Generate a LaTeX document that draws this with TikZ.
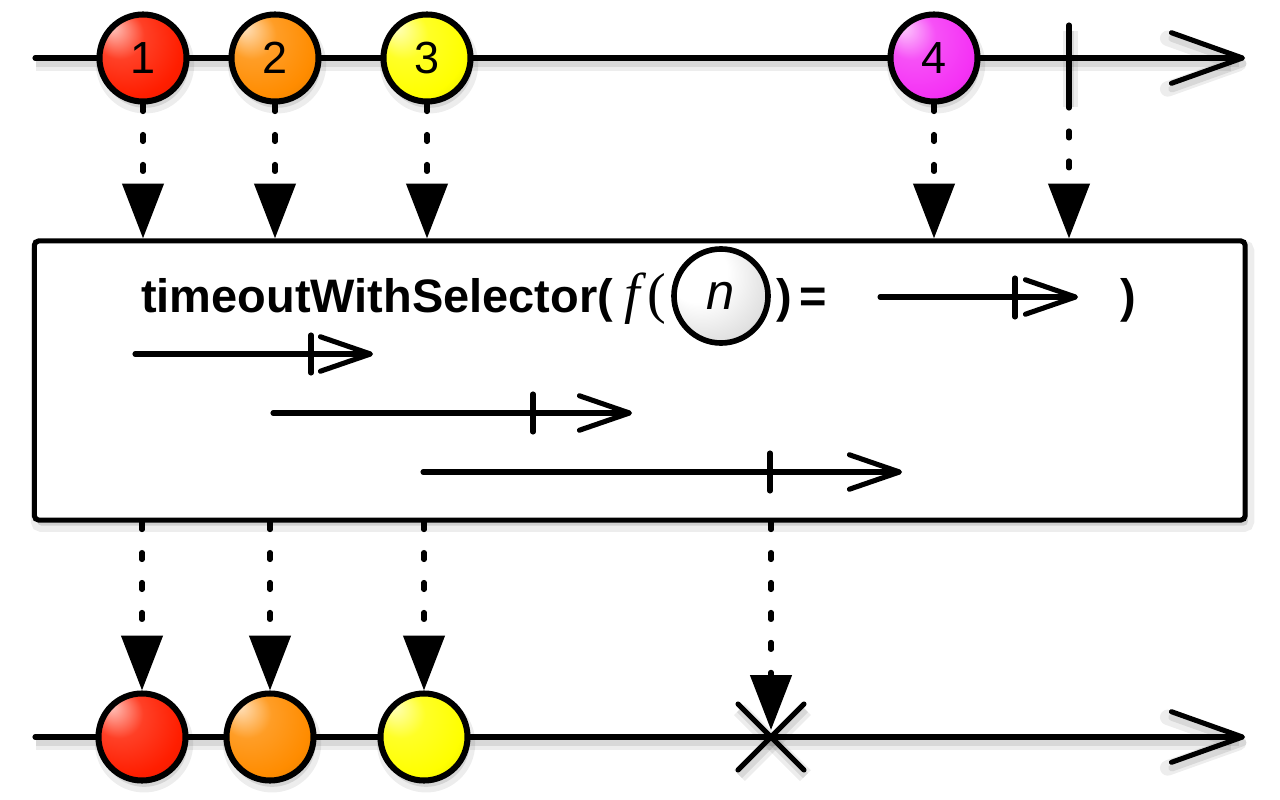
\documentclass[tikz,border=0pt]{standalone}
\usepackage{fontspec}
\setmainfont{Liberation Sans}
\newfontfamily\timesfont{Liberation Serif}
\usetikzlibrary{arrows.meta}
\colorlet{marblecol}{red}
\pgfdeclareradialshading[marblecol]{marble}{\pgfqpoint{-18bp}{18bp}}{%
  color(0bp)=(marblecol!25!white);
  color(14bp)=(marblecol!85!white);
  color(30bp)=(marblecol);
  color(44bp)=(marblecol!85!black);
  color(54bp)=(marblecol!55!black)}
\pgfdeclareradialshading{whiteball}{\pgfqpoint{-18bp}{18bp}}{%
  color(0bp)=(white);
  color(16bp)=(white);
  color(32bp)=(black!12);
  color(44bp)=(black!30);
  color(54bp)=(black!50)}
\definecolor{mred}{RGB}{255,30,0}
\definecolor{morange}{RGB}{255,140,0}
\definecolor{myellow}{RGB}{255,255,0}
\definecolor{mmagenta}{RGB}{245,50,245}
\tikzset{
  lw/.style={line width=3.6pt, line cap=round, line join=round},
  lshadow/.style={
    preaction={draw=black, draw opacity=0.07, line width=11pt, transform canvas={shift={(1pt,-4pt)}}},
    preaction={draw=black, draw opacity=0.09, line width=5pt, transform canvas={shift={(1pt,-4pt)}}}},
  bigarrow/.style={-{Straight Barb[length=50.5pt,width=36pt,round]}},
  smallarrow/.style={-{Straight Barb[length=35.6pt,width=24.5pt,round]}},
  dotconn/.style={line width=3.6pt, line cap=round, dash pattern=on 5pt off 16.3pt,
    -{Triangle[length=39pt,width=29pt]}},
  marble/.style={circle, draw=black, line width=4.3pt, minimum size=2.175cm, inner sep=0pt,
    shade, shading=marble, /utils/exec={\colorlet{marblecol}{#1}},
    font=\fontsize{32}{38}\selectfont,
    preaction={fill=black, fill opacity=0.10, transform canvas={shift={(1.5pt,-4.5pt)}}},
    preaction={draw=black, draw opacity=0.07, line width=8pt, transform canvas={shift={(1.5pt,-4.5pt)}}}},
  nball/.style={circle, draw=black, line width=4pt, minimum size=2.35cm, inner sep=0pt,
    shade, shading=whiteball, font=\fontsize{36}{40}\selectfont\itshape},
  titletext/.style={anchor=base west, inner sep=0pt, font=\fontsize{33.4}{40}\selectfont\bfseries},
  opbox/.style={draw=black, fill=white, line width=3.6pt, rounded corners=3pt,
    minimum width=30.26cm, minimum height=6.975cm,
    preaction={fill=black, fill opacity=0.12, transform canvas={shift={(2pt,-4pt)}}},
    preaction={draw=black, draw opacity=0.07, line width=9pt, transform canvas={shift={(2pt,-4pt)}}}},
}
\begin{document}
\begin{tikzpicture}[x=0.025cm, y=-0.025cm]
\useasboundingbox (0,0) rectangle (1280,800);

% operator box
\node[opbox] (box) at (639.75,380.5) {};

% top timeline
\coordinate (ts) at (35,58);
\coordinate (te) at (1245,58);
\draw[lw, lshadow, bigarrow] (ts) -- (te);
\coordinate (tk1) at (1069,25);
\coordinate (tk2) at (1069,101);
\draw[lw, lshadow] (tk1) -- (tk2);
\node[marble=mred] (m1) at (143,58) {1};
\node[marble=morange] (m2) at (275,58) {2};
\node[marble=myellow] (m3) at (427,58) {3};
\node[marble=mmagenta] (m4) at (934,58) {4};

% top connectors
\draw[dotconn] (m1) -- (m1 |- box.north);
\draw[dotconn] (m2) -- (m2 |- box.north);
\draw[dotconn] (m3) -- (m3 |- box.north);
\draw[dotconn] (m4) -- (m4 |- box.north);
\draw[dotconn] (tk2) -- (tk2 |- box.north);

% title line
\node[titletext] (tname) at (141,312) {timeoutWithSelector(};
\node[anchor=base west, inner sep=0pt, font=\fontsize{40}{48}\selectfont\timesfont\itshape] (tf) at (624,312) {f};
\node[anchor=base west, inner sep=0pt, font=\fontsize{40}{48}\selectfont\timesfont] (tp) at (647,312) {(};
\node[nball] (nb) at (721,296) {n};
\node[titletext] (tq) at (776,312) {)};
\node[titletext] (teq) at (799,312) {=};
\coordinate (ia1) at (880,297);
\coordinate (ia2) at (1078,297);
\draw[lw, smallarrow] (ia1) -- (ia2);
\coordinate (it1) at (1015,278);
\coordinate (it2) at (1015,317);
\draw[lw] (it1) -- (it2);
\node[titletext] (tcl) at (1120,312) {)};

% selector timelines
\coordinate (r1s) at (135,354);
\coordinate (r1e) at (373,354);
\draw[lw, smallarrow] (r1s) -- (r1e);
\coordinate (r1a) at (311,335);
\coordinate (r1b) at (311,373);
\draw[lw] (r1a) -- (r1b);

\coordinate (r2s) at (273,413);
\coordinate (r2e) at (632,413);
\draw[lw, smallarrow] (r2s) -- (r2e);
\coordinate (r2a) at (533,394);
\coordinate (r2b) at (533,432);
\draw[lw] (r2a) -- (r2b);

\coordinate (r3s) at (423,472);
\coordinate (r3e) at (902,472);
\draw[lw, smallarrow] (r3s) -- (r3e);
\coordinate (r3a) at (770,453);
\coordinate (r3b) at (770,491);
\draw[lw] (r3a) -- (r3b);

% bottom timeline
\coordinate (bs) at (35,737);
\coordinate (be) at (1245,737);
\draw[lw, lshadow, bigarrow] (bs) -- (be);
\coordinate (x1) at (738,704);
\coordinate (x2) at (804,770);
\coordinate (x3) at (738,770);
\coordinate (x4) at (804,704);
\draw[lw, lshadow] (x1) -- (x2);
\draw[lw, lshadow] (x3) -- (x4);
\coordinate (xtip) at (771,730);
\node[marble=mred] (b1) at (142,737) {};
\node[marble=morange] (b2) at (270,737) {};
\node[marble=myellow] (b3) at (424,737) {};

% bottom connectors
\draw[dotconn] (b1 |- box.south) -- (b1);
\draw[dotconn] (b2 |- box.south) -- (b2);
\draw[dotconn] (b3 |- box.south) -- (b3);
\draw[dotconn] (xtip |- box.south) -- (xtip);
\end{tikzpicture}
\end{document}
